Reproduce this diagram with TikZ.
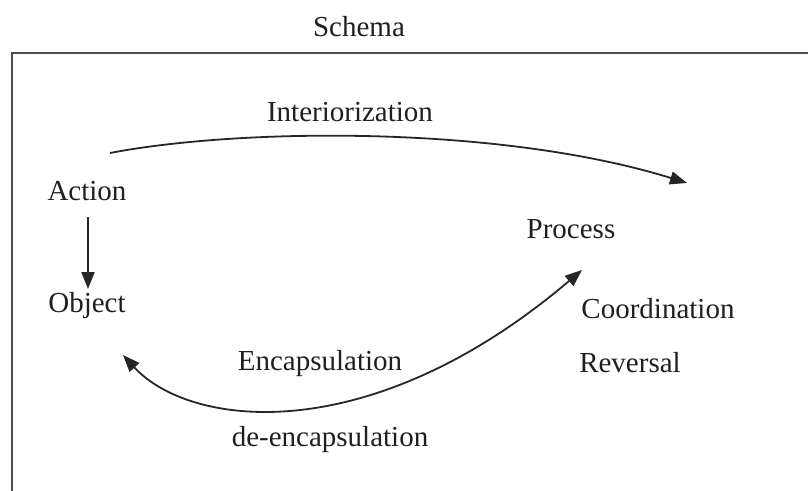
\documentclass[tikz,border=0pt]{standalone}
\usepackage{fontspec}
\setmainfont{Liberation Serif}
\usetikzlibrary{arrows.meta}
\begin{document}
\begin{tikzpicture}[x=1pt,y=-1pt,
  lbl/.style={anchor=base,inner sep=0pt,text=black!88,font=\fontsize{29}{34}\selectfont},
  frame/.style={draw=black!70,line width=2pt},
  conn/.style={draw=black!85,line width=1.8pt},
  tip/.style={-{Triangle[length=17pt,width=13pt]}},
  tips/.style={{Triangle[length=17pt,width=13pt]}-{Triangle[length=17pt,width=13pt]}}]
\useasboundingbox (0,0) rectangle (808,490);
\draw[frame] (12,495) -- (12,53) -- (815,53);
\node[lbl] (schema) at (359,36) {Schema};
\node[lbl] (inter) at (350,121) {Interiorization};
\node[lbl] (act) at (87,200) {Action};
\node[lbl] (obj) at (87,312) {Object};
\node[lbl] (proc) at (571,238) {Process};
\node[lbl] (coord) at (658,318) {Coordination};
\node[lbl] (rev) at (630,372) {Reversal};
\node[lbl] (enc) at (320,370) {Encapsulation};
\node[lbl] (denc) at (330,446) {de-encapsulation};
\coordinate (i1) at (110,153);
\coordinate (i2) at (687,183);
\coordinate (e1) at (123,355);
\coordinate (e2) at (582,270);
\coordinate (a1) at (88,217);
\coordinate (a2) at (88,289);
\draw[conn,tip] (a1) -- (a2);
\draw[conn,tip] (i1) .. controls (240,128) and (500,125) .. (i2);
\draw[conn,tips] (e1) .. controls (190,428) and (370,450) .. (e2);
\end{tikzpicture}
\end{document}
